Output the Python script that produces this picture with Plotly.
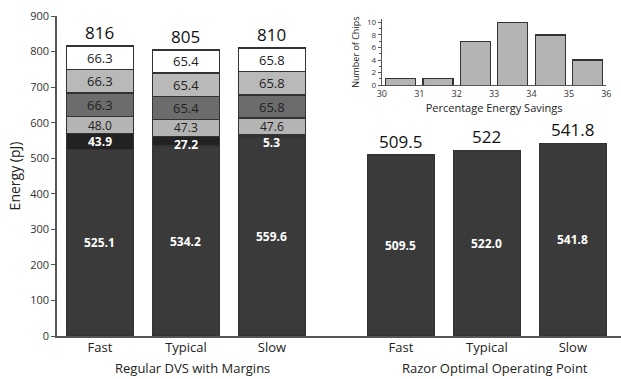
import plotly.graph_objects as go

# ---- data ----
groups = ["Regular DVS with Margins", "Razor Optimal Operating Point"]
corners = ["Fast", "Typical", "Slow"]
layer_colors = ["#3a3a3a", "#222222", "#b4b4b4", "#6c6c6c", "#b9b9b9", "#ffffff"]
layer_text_colors = ["white", "white", "#222", "#222", "#222", "#222"]
# stacked layers (bottom -> top) for Regular DVS
dvs_layers = [
    [525.1, 534.2, 559.6],
    [43.9, 27.2, 5.3],
    [48.0, 47.3, 47.6],
    [66.3, 65.4, 65.8],
    [66.3, 65.4, 65.8],
    [66.3, 65.4, 65.8],
]
dvs_totals = ["816", "805", "810"]
razor_vals = [509.5, 522.0, 541.8]
razor_totals = ["509.5", "522", "541.8"]

# inset histogram
hist_bins = [30.5, 31.5, 32.5, 33.5, 34.5, 35.5]
hist_counts = [1, 1, 7, 10, 8, 4]

FONT = "Open Sans"
x_dvs = [i for i in range(3)]
x_razor = [i + 3.5 for i in range(3)]

fig = go.Figure()
bar_w = 0.78
line = dict(color="#333", width=1.5)

annotations = []
base = [0, 0, 0]
for li, vals in enumerate(dvs_layers):
    fig.add_trace(go.Bar(x=x_dvs, y=vals, width=bar_w,
                         marker=dict(color=layer_colors[li], line=line),
                         showlegend=False, hoverinfo="skip"))
    for j, v in enumerate(vals):
        mid = base[j] + v / 2
        if li == 1:
            mid = min(mid, base[j] + v - 22)
        txt = f"{v:.1f}"
        if layer_text_colors[li] == "white":
            txt = f"<b>{txt}</b>"
        annotations.append(dict(x=x_dvs[j], y=mid, text=txt, showarrow=False,
                                font=dict(family=FONT, size=12 if li < 3 else 13,
                                          color=layer_text_colors[li]),
                                xref="x", yref="y"))
    base = [b + v for b, v in zip(base, vals)]

for j, t in enumerate(dvs_totals):
    annotations.append(dict(x=x_dvs[j], y=base[j], text=t, showarrow=False, yanchor="bottom",
                            yshift=0, font=dict(family=FONT, size=17, color="#111"),
                            xref="x", yref="y"))

fig.add_trace(go.Bar(x=x_razor, y=razor_vals, width=bar_w,
                     marker=dict(color=layer_colors[0], line=line),
                     showlegend=False, hoverinfo="skip"))
for j, v in enumerate(razor_vals):
    annotations.append(dict(x=x_razor[j], y=v / 2, text=f"<b>{v:.1f}</b>", showarrow=False,
                            font=dict(family=FONT, size=12, color="white"), xref="x", yref="y"))
    annotations.append(dict(x=x_razor[j], y=v, text=razor_totals[j], showarrow=False,
                            yanchor="bottom", yshift=0,
                            font=dict(family=FONT, size=17, color="#111"), xref="x", yref="y"))

# group labels
for gx, g in zip([1.08, 4.6], groups):
    annotations.append(dict(x=gx, y=0, xref="x", yref="paper", yanchor="middle", yshift=-32,
                            text=g, showarrow=False, font=dict(family=FONT, size=13, color="#222")))

# inset
fig.add_trace(go.Bar(x=hist_bins, y=hist_counts, width=0.8, xaxis="x2", yaxis="y2",
                     marker=dict(color="#b4b4b4", line=dict(color="#333", width=1.2)),
                     showlegend=False, hoverinfo="skip"))

fig.update_layout(
    width=621, height=379,
    margin=dict(l=57, r=0, t=16, b=43, autoexpand=False),
    barmode="stack",
    plot_bgcolor="white", paper_bgcolor="white",
    font=dict(family=FONT, color="#222"),
    annotations=annotations,
    xaxis=dict(range=[-0.5, 6.06], tickvals=x_dvs + x_razor, ticktext=corners * 2,
               showline=True, linecolor="#555", linewidth=1.5, ticks="", showgrid=False,
               zeroline=False, automargin=False, ticklabelstandoff=-1,
               tickfont=dict(family=FONT, size=13, color="#222")),
    yaxis=dict(range=[0, 900], dtick=100, showline=True, linecolor="#555", linewidth=1.5,
               ticks="outside", ticklen=4, tickcolor="#555", showgrid=False, zeroline=False,
               automargin=False,
               tickfont=dict(family=FONT, size=11, color="#333"),
               title=dict(text="Energy (pJ)", font=dict(family=FONT, size=14, color="#222"),
                          standoff=6)),
    xaxis2=dict(domain=[0.576, 0.974], anchor="y2", range=[30, 36], dtick=1,
                showline=True, linecolor="#555", linewidth=1.2, ticks="", showgrid=False,
                zeroline=False, automargin=False, tickfont=dict(family=FONT, size=9, color="#333"),
                title=dict(text="Percentage Energy Savings", standoff=0,
                           font=dict(family=FONT, size=11, color="#222"))),
    yaxis2=dict(domain=[0.784, 0.99], anchor="x2", range=[0, 10.5], dtick=2,
                showline=True, linecolor="#555", linewidth=1.2, ticks="outside", ticklen=3,
                tickcolor="#555", showgrid=False, zeroline=False, automargin=False,
                minor=dict(dtick=1, ticks="outside", ticklen=2, tickcolor="#555"),
                tickfont=dict(family=FONT, size=8, color="#333"),
                title=dict(text="Number of Chips", standoff=5,
                           font=dict(family=FONT, size=9, color="#222"))),
)

fig.write_html("out.html", config={"displayModeBar": False},
               post_script="document.body.style.margin='0';")
